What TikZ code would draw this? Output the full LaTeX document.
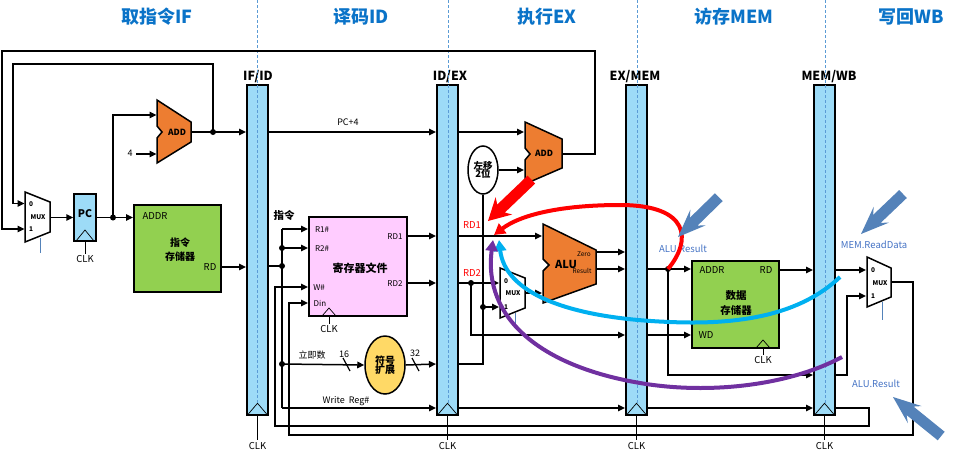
\documentclass[tikz,border=0pt]{standalone}
\usepackage{fontspec}
\setmainfont{Noto Sans CJK SC}
\usetikzlibrary{arrows.meta,shapes.geometric}
\definecolor{regblue}{RGB}{157,219,247}
\definecolor{memgreen}{RGB}{146,208,80}
\definecolor{aluorange}{RGB}{237,125,49}
\definecolor{rfpink}{RGB}{255,204,255}
\definecolor{sxyellow}{RGB}{255,217,102}
\definecolor{titleblue}{RGB}{10,115,200}
\definecolor{guideblue}{RGB}{91,155,213}
\definecolor{fwdcyan}{RGB}{0,176,240}
\definecolor{fwdpurple}{RGB}{112,48,160}
\definecolor{steel}{RGB}{84,130,185}
\definecolor{noteblue}{RGB}{68,114,196}
\begin{document}
\begin{tikzpicture}[x=1pt,y=-1pt,
  fs/.style={font=\fontsize{#1}{#1}\selectfont},
  fb/.style={font=\fontsize{#1}{#1}\selectfont\bfseries},
  wire/.style={line width=1.5pt},
  arr/.style={line width=1.5pt,-{Triangle[length=7pt,width=6.5pt]}},
  reg/.style={draw,line width=2.5pt,fill=regblue,minimum width=21pt,minimum height=330pt,inner sep=0pt},
  jdot/.style={circle,fill,inner sep=0pt,minimum size=6pt},
  box/.style={draw,line width=2pt,inner sep=0pt},
  sel/.style={steel,line width=0.8pt},
  thinl/.style={line width=0.7pt},
  fwd/.style={line width=4pt,-{Triangle[length=11pt,width=12pt]}},
]
\useasboundingbox (0,0) rectangle (958,459);

% ---------- titles ----------
\node[fb=18,titleblue] (tIF) at (157,17) {取指令IF};
\node[fb=18,titleblue] (tID) at (361,17) {译码ID};
\node[fb=18,titleblue] (tEX) at (547,17) {执行EX};
\node[fb=18,titleblue] (tMEM) at (734,17) {访存MEM};
\node[fb=18,titleblue] (tWB) at (911,17) {写回WB};

% ---------- pipeline registers ----------
\node[reg] (ifid) at (257.5,250) {};
\node[reg] (idex) at (447.5,250) {};
\node[reg] (exmem) at (636.5,250) {};
\node[reg] (memwb) at (824.5,250) {};
\node[fb=12.5] (lifid) at (258,77) {IF/ID};
\node[fb=12.5] (lidex) at (450,77) {ID/EX};
\node[fb=12.5] (lexmem) at (635,77) {EX/MEM};
\node[fb=12.5] (lmemwb) at (829,77) {MEM/WB};
\foreach \r in {ifid,idex,exmem,memwb}{
  \draw[thinl] ([xshift=-10pt,yshift=1.25pt]\r.south) -- ([yshift=13pt]\r.south) -- ([xshift=10pt,yshift=1.25pt]\r.south);
  \draw[line width=0.8pt] (\r.south) -- ++(0,24) node[fs=9.5,anchor=north,inner sep=1.5pt] (clk\r) {CLK};
}
\foreach \gx in {257,448,637,825}
  \draw[guideblue,line width=0.6pt,dash pattern=on 3pt off 2pt] (\gx,0) -- (\gx,404);

% ---------- IF stage ----------
\draw[line width=1.5pt,fill=white] (25,192) -- (50,202) -- (50,232) -- (25,242) -- cycle;
\node[fb=6.5] (m1a) at (31,204) {0};
\node[fb=6.5] (m1b) at (38,217) {MUX};
\node[fb=6.5] (m1c) at (31,229.5) {1};
\draw[sel] (40,238) -- (40,253);
\coordinate (m1out) at (50,217.5);
\coordinate (m1in0) at (24.5,203.5);
\coordinate (m1in1) at (24.5,229);

\node[draw,line width=1.5pt,fill=regblue,minimum width=22pt,minimum height=47pt,inner sep=0pt] (pc) at (85,217.5) {};
\node[fb=10.5] (pct) at (85,214) {PC};
\draw[thinl] (76,241) -- (85,230) -- (94,241);
\draw[line width=0.8pt] (pc.south) -- ++(0,12) node[fs=9.5,anchor=north,inner sep=1.5pt] (clkpc) {CLK};

\node[box,fill=memgreen,minimum width=87pt,minimum height=87pt] (imem) at (177.5,248.5) {};
\node[fs=9.5,anchor=west] (imA) at (139,216) {ADDR};
\node[fb=10] (imT1) at (180,243) {指令};
\node[fb=10] (imT2) at (180,257) {存储器};
\node[fs=9.5] (imRD) at (210,267) {RD};

\draw[line width=1.5pt,fill=aluorange] (157,100) -- (191,122) -- (191,142) -- (157,163) -- (157,138) -- (162,132) -- (157,126) -- cycle;
\node[fb=8.5] (addifl) at (177,132) {ADD};
\node[fs=9] (four) at (130,153) {4};

\node[jdot] (d1) at (113,217.5) {};
\node[jdot] (d2) at (213,132) {};
\draw[arr] (m1out) -- (pc.west);
\draw[arr] (pc.east) -- (133,217.5);
\draw[arr] (d1.center) |- (156.5,115);
\draw[arr] (136,154) -- (156.5,154);
\draw[arr] (191,132) -- (246,132);
\draw[arr] (d2.center) -- (213,64) -- (13,64) -- (13,203.5) -- (m1in0);
\draw[arr] (221,267) -- (246,267);

% ---------- ID stage ----------
\node[box,fill=rfpink,minimum width=98pt,minimum height=99pt] (rf) at (358,266.5) {};
\node[fs=8] (r1) at (322,230) {R1\#};
\node[fs=8] (r2) at (322,248.5) {R2\#};
\node[fs=8] (rw) at (319,288) {W\#};
\node[fs=8] (rdin) at (320,303.5) {Din};
\node[fs=8] (rrd1) at (395,236.5) {RD1};
\node[fs=8] (rrd2) at (395,284) {RD2};
\node[fb=11] (rft) at (360,268) {寄存器文件};
\draw[thinl] (322,316) -- (329,308) -- (336,316);
\draw[line width=0.8pt] (329,317) -- (329,324) node[fs=9.5,anchor=north,inner sep=1.5pt] (clkrf) {CLK};

\node[draw,line width=1.5pt,fill=sxyellow,ellipse,minimum width=40pt,minimum height=58pt,inner sep=0pt] (sext) at (385,365) {};
\node[fb=10,align=center] (sextt) at (385,365) {符号\\[-1pt]扩展};

\node[fb=10.5] (zhiling) at (284,215) {指令};
\node[fs=9] (lijishu) at (312,355) {立即数};
\node[fs=9] (n16) at (344,354) {16};
\node[fs=9] (n32) at (415,353) {32};
\node[fs=9] (wreg) at (346,401) {Write\ \ Reg\#};
\node[fs=9] (pc4) at (348,122) {PC+4};

\node[jdot] (d3) at (282,248) {};
\node[jdot] (d4) at (282,266) {};
\node[jdot] (d5) at (282,364) {};
\draw[arr] (269,132) -- (436,132);
\draw[wire] (269,266) -- (d4.center);
\draw[wire] (282,229) -- (282,408);
\draw[arr] (282,229) -- (308,229);
\draw[arr] (d3.center) -- (308,248);
\draw[arr] (d5.center) -- (sext.west);
\draw[arr] (282,408) -- (436,408);
\draw[arr] (408,236) -- (436,236);
\draw[arr] (408,283) -- (436,283);
\draw[arr] (sext.east) -- (436,364);
\draw[line width=1.2pt] (343,358) -- (350,371);
\draw[line width=1.2pt] (412,358) -- (419,371);

% ---------- EX stage ----------
\draw[line width=1.5pt,fill=aluorange] (525,122) -- (562,139) -- (562,168) -- (525,184) -- (525,160) -- (530,154) -- (525,148) -- cycle;
\node[fb=8.5] (addexl) at (544,153) {ADD};
\node[draw,line width=1.5pt,fill=white,ellipse,minimum width=30pt,minimum height=48pt,inner sep=0pt] (sll) at (483,170) {};
\node[fb=9.5,align=center] (sllt) at (483,170) {左移\\[-1pt]2位};

\draw[line width=1.5pt,fill=white] (500,268) -- (525,278) -- (525,308) -- (500,318) -- cycle;
\node[fb=6.5] (m2a) at (506,281) {0};
\node[fb=6.5] (m2b) at (513,293) {MUX};
\node[fb=6.5] (m2c) at (506,307) {1};
\draw[sel] (515,313) -- (515,328);

\draw[line width=1.5pt,fill=aluorange] (543,224) -- (596,250) -- (596,284) -- (543,303) -- (543,271) -- (549,265) -- (543,259) -- cycle;
\node[fb=11] (alut) at (566,264) {ALU};
\node[fs=6.5] (zero) at (584,254.5) {Zero};
\node[fs=6.5] (result) at (582,271) {Result};

\node[fs=9.5,red] (lrd1) at (472,225) {RD1};
\node[fs=9.5,red] (lrd2) at (472,273) {RD2};

\node[jdot] (d6) at (471,283) {};
\node[jdot] (d7) at (483,307) {};
\draw[arr] (459,132) -- (524,132);
\draw[arr] (sll.east) -- (524,170);
\draw[wire] (459,364) -- (483,364) -- (sll.south);
\draw[arr] (d7.center) -- (499,307);
\draw[arr] (459,236) -- (542,236);
\draw[arr] (459,283) -- (499,283);
\draw[arr] (d6.center) -- (471,335) -- (625,335);
\draw[arr] (525,293) -- (542,293);
\draw[arr] (596,252) -- (625,252);
\draw[arr] (596,269) -- (625,269);
\draw[arr] (459,408) -- (625,408);
\draw[arr] (562,154) -- (595,154) -- (595,51) -- (2,51) -- (2,229) -- (m1in1);

% ---------- MEM stage ----------
\node[box,fill=memgreen,minimum width=87pt,minimum height=87pt] (dmem) at (735.5,304.5) {};
\node[fs=9.5] (dmA) at (712,270) {ADDR};
\node[fs=9.5] (dmRD) at (766,270) {RD};
\node[fs=9.5] (dmWD) at (706,335) {WD};
\node[fb=10.5] (dmT1) at (736,296) {数据};
\node[fb=10.5] (dmT2) at (736,310) {存储器};
\draw[thinl] (756,348) -- (763,340) -- (770,348);
\draw[line width=0.8pt] (763,349) -- (763,355) node[fs=9.5,anchor=north,inner sep=1.5pt] (clkdm) {CLK};

\node[jdot] (d8) at (668,269) {};
\draw[arr] (648,269) -- (691,269);
\draw[arr] (d8.center) -- (668,375) -- (813,375);
\draw[arr] (648,335) -- (691,335);
\draw[arr] (648,408) -- (813,408);
\draw[arr] (780,270) -- (813,270);

% ---------- WB stage ----------
\draw[line width=1.5pt,fill=white] (867,257) -- (891,268) -- (891,297) -- (867,307) -- cycle;
\node[fb=6.5] (m3a) at (873,270) {0};
\node[fb=6.5] (m3b) at (880,283) {MUX};
\node[fb=6.5] (m3c) at (873,296) {1};
\draw[sel] (882,302) -- (882,320);
\draw[arr] (836,270) -- (866,270);
\draw[arr] (836,375) -- (847,375) -- (847,296) -- (866,296);
\draw[arr] (836,408) -- (869,408) -- (869,426) -- (275,426) -- (275,287) -- (308,287);
\draw[arr] (891,282) -- (913,282) -- (913,435) -- (289,435) -- (289,303) -- (308,303);

% ---------- annotations ----------
\node[fs=9.5,noteblue] (n1) at (683,249) {ALU.Result};
\node[fs=9.5,noteblue] (n2) at (874,245) {MEM.ReadData};
\node[fs=9.5,noteblue] (n3) at (876,384) {ALU.Result};

\draw[fwd,red] (d8.center) .. controls (692,240) and (690,205) .. (620,205) .. controls (560,205) and (520,215) .. (494,235);
\draw[fwd,fwdcyan] (840,277) .. controls (800,315) and (740,325) .. (670,322) .. controls (565,318) and (505,292) .. (499,240);
\draw[fwd,fwdpurple] (842,357) .. controls (790,385) and (710,395) .. (640,383) .. controls (540,366) and (483,318) .. (493,240);

% block arrows (tip at origin, pointing along +x)
\begin{scope}[shift={(488,221)},rotate=223.7]
  \fill[red] (0,0) -- (-22,-12) -- (-18,-5.5) -- (-60,-5.5) -- (-60,5.5) -- (-18,5.5) -- (-22,12) -- cycle;
\end{scope}
\begin{scope}[shift={(678,237)},rotate=224.3]
  \fill[steel] (0,0) -- (-28,-11) -- (-22,-5.5) -- (-57,-5.5) -- (-57,5.5) -- (-22,5.5) -- (-28,11) -- cycle;
\end{scope}
\begin{scope}[shift={(861,234)},rotate=223.6]
  \fill[steel] (0,0) -- (-28,-11) -- (-22,-5.5) -- (-58,-5.5) -- (-58,5.5) -- (-22,5.5) -- (-28,11) -- cycle;
\end{scope}
\begin{scope}[shift={(893,397)},rotate=141]
  \fill[steel] (0,0) -- (-28,-11) -- (-22,-5.5) -- (-62,-5.5) -- (-62,5.5) -- (-22,5.5) -- (-28,11) -- cycle;
\end{scope}
\end{tikzpicture}
\end{document}
